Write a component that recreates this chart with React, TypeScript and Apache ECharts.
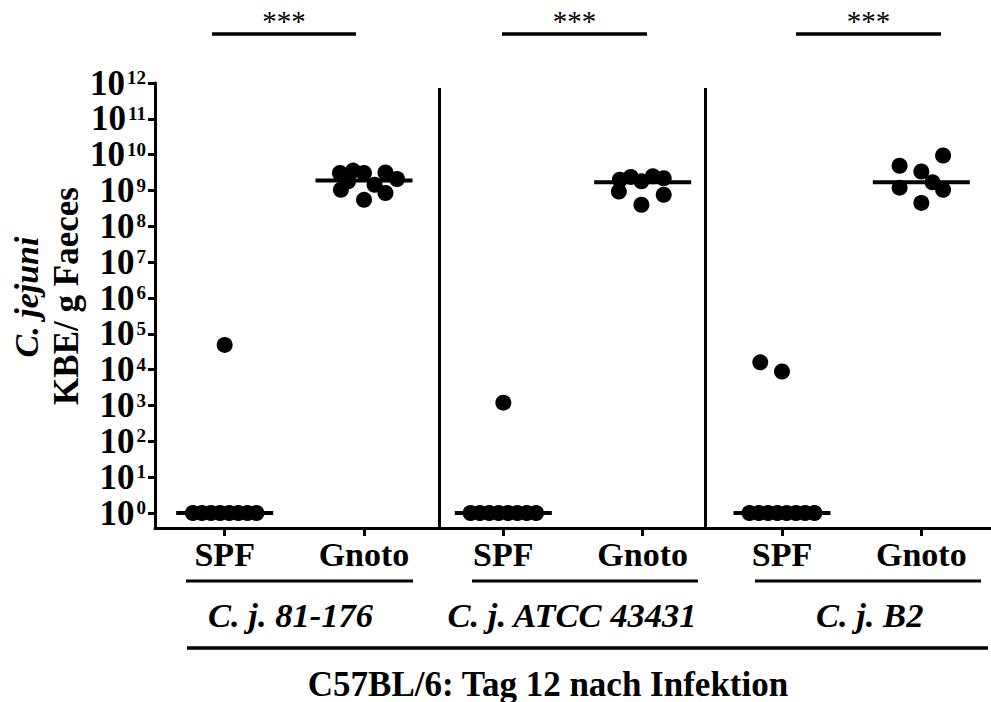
import React, { useEffect, useRef } from "react";
import * as echarts from "echarts";

// ---- data ----
const categories = ["SPF", "Gnoto", "SPF", "Gnoto", "SPF", "Gnoto"];
const strains = ["C. j. 81-176", "C. j. ATCC 43431", "C. j. B2"];
const yExponents = [0, 1, 2, 3, 4, 5, 6, 7, 8, 9, 10, 11, 12];
const significance = ["***", "***", "***"];

// CFU / g faeces per animal, with the horizontal scatter offset of each dot (in category units)
const spf81176 = [1, 1, 1, 1, 1, 1, 1, 1, 4.9e4];
const spf81176Jitter = [-0.228, -0.163, -0.098, -0.033, 0.033, 0.098, 0.163, 0.228, 0];
const gnoto81176 = [3.1e9, 3.6e9, 3.1e9, 1.05e9, 1.8e9, 1.45e9, 3.2e9, 2.1e9, 8.5e8, 5.5e8];
const gnoto81176Jitter = [-0.173, -0.078, 0, -0.166, -0.114, 0.076, 0.154, 0.237, 0.154, 0];
const spfAtcc = [1, 1, 1, 1, 1, 1, 1, 1, 1.2e3];
const spfAtccJitter = [-0.235, -0.168, -0.101, -0.034, 0.034, 0.101, 0.168, 0.235, 0];
const gnotoAtcc = [2.0e9, 2.4e9, 1.8e9, 2.5e9, 2.2e9, 9.4e8, 7.6e8, 4.0e8];
const gnotoAtccJitter = [-0.164, -0.085, -0.009, 0.073, 0.151, -0.171, 0.151, -0.009];
const spfB2 = [1, 1, 1, 1, 1, 1, 1, 1, 1.6e4, 8.9e3];
const spfB2Jitter = [-0.233, -0.166, -0.1, -0.033, 0.033, 0.1, 0.166, 0.233, -0.156, 0];
const gnotoB2 = [4.9e9, 9.5e9, 3.4e9, 1.7e9, 1.2e9, 1.05e9, 4.5e8];
const gnotoB2Jitter = [-0.156, 0.156, 0, 0.08, -0.156, 0.156, 0];
const medians = [1, 1.9e9, 1, 1.7e9, 1, 1.7e9];
const separatorsAt = [1.54, 3.45];

const groups = [
  [spf81176, spf81176Jitter],
  [gnoto81176, gnoto81176Jitter],
  [spfAtcc, spfAtccJitter],
  [gnotoAtcc, gnotoAtccJitter],
  [spfB2, spfB2Jitter],
  [gnotoB2, gnotoB2Jitter],
];

const FONT = "'Liberation Serif', 'Times New Roman', serif";

export default function App() {
  const ref = useRef<HTMLDivElement>(null);

  useEffect(() => {
    if (!ref.current) return;
    const chart = echarts.init(ref.current, undefined, { renderer: "svg" });

    const gridLeft = 155;
    const gridWidth = 843.6;
    const top = 83;
    const zeroY = 513; // pixel row of 10^0
    const axisY = 528; // pixel row of the x axis line
    const dec = (zeroY - top) / 12;
    const yMin0 = -(axisY - zeroY) / dec;

    const points: number[][] = [];
    groups.forEach(([vals, jit], gi) => {
      vals.forEach((v, k) => points.push([gi + jit[k], Math.log10(v)]));
    });
    const medianData = medians.map((m, i) => [i, Math.log10(m)]);

    const sigBars = [
      [212, 356],
      [502, 647],
      [796, 941],
    ];
    const underlines = [
      [186, 413],
      [472, 698],
      [755, 981],
    ];
    const strainCenters = [290.5, 572, 869.7];

    const txt = (text: string, x: number, y: number, font: string, rotation = 0) => ({
      type: "text",
      x,
      y,
      rotation,
      style: {
        text,
        fill: "#000",
        font,
        textAlign: "center",
        textVerticalAlign: "middle",
        align: "center",
        verticalAlign: "middle",
      },
    });

    const graphic: any[] = [];
    sigBars.forEach(([a, b], i) => {
      graphic.push({
        type: "line",
        shape: { x1: a, y1: 34, x2: b, y2: 34 },
        style: { stroke: "#000", lineWidth: 3.5 },
      });
      graphic.push(txt(significance[i], (a + b) / 2, 21, `normal 29px ${FONT}`));
    });
    underlines.forEach(([a, b], i) => {
      graphic.push({
        type: "line",
        shape: { x1: a, y1: 581, x2: b, y2: 581 },
        style: { stroke: "#000", lineWidth: 3 },
      });
      graphic.push(txt(strains[i], strainCenters[i], 615, `italic bold 34.5px ${FONT}`));
    });
    graphic.push({
      type: "line",
      shape: { x1: 187, y1: 648, x2: 988, y2: 648 },
      style: { stroke: "#000", lineWidth: 3.5 },
    });
    graphic.push(txt("C57BL/6: Tag 12 nach Infektion", 548, 684, `bold 35px ${FONT}`));
    graphic.push(txt("C. jejuni", 26, 297, `italic bold 34px ${FONT}`, Math.PI / 2));
    graphic.push(txt("KBE/ g Faeces", 66, 296, `bold 35px ${FONT}`, Math.PI / 2));

    const option: any = {
      animation: false,
      backgroundColor: "#fff",
      grid: [
        { left: gridLeft, top, width: gridWidth, bottom: 702 - axisY, containLabel: false },
        { left: gridLeft, top, width: gridWidth, bottom: 702 - zeroY, containLabel: false },
      ],
      xAxis: [
        {
          type: "category",
          gridIndex: 0,
          data: categories,
          boundaryGap: true,
          axisLine: { show: true, onZero: false, lineStyle: { color: "#000", width: 3 } },
          axisTick: { show: true, alignWithLabel: true, length: 8, lineStyle: { color: "#000", width: 3 } },
          axisLabel: {
            color: "#000",
            fontFamily: FONT,
            fontWeight: "bold",
            fontSize: 34,
            margin: 9,
          },
          splitLine: { show: false },
        },
        { type: "value", gridIndex: 0, min: -0.5, max: 5.5, show: false },
        { type: "value", gridIndex: 1, min: -0.5, max: 5.5, show: false },
      ],
      yAxis: [
        {
          type: "value",
          gridIndex: 0,
          min: yMin0,
          max: 12,
          axisLine: { show: true, onZero: false, lineStyle: { color: "#000", width: 3 } },
          axisTick: { show: false },
          axisLabel: { show: false },
          splitLine: { show: false },
        },
        {
          type: "value",
          gridIndex: 1,
          min: 0,
          max: 12,
          interval: 1,
          axisLine: { show: false, onZero: false },
          axisTick: { show: true, length: 7, lineStyle: { color: "#000", width: 3 } },
          splitLine: { show: false },
          axisLabel: {
            margin: 9,
            formatter: (v: number) => (yExponents.includes(v) ? `{a|10}{b|${v}}` : ""),
            rich: {
              a: { fontFamily: FONT, fontWeight: "bold", fontSize: 35, color: "#000", lineHeight: 30 },
              b: {
                fontFamily: FONT,
                fontWeight: "bold",
                fontSize: 19,
                color: "#000",
                verticalAlign: "top",
                lineHeight: 19,
                padding: [0, 0, 0, 2],
              },
            },
          },
        },
      ],
      series: [
        {
          type: "scatter",
          xAxisIndex: 1,
          yAxisIndex: 0,
          symbol: "rect",
          symbolSize: [97, 4],
          itemStyle: { color: "#000", opacity: 1 },
          data: medianData,
          markLine: {
            silent: true,
            symbol: ["none", "none"],
            label: { show: false },
            lineStyle: { color: "#000", width: 3, type: "solid", opacity: 1 },
            data: separatorsAt.map((x) => [{ coord: [x, 11.86] }, { coord: [x, yMin0] }]),
          },
        },
        {
          type: "scatter",
          xAxisIndex: 1,
          yAxisIndex: 0,
          symbol: "circle",
          symbolSize: 16,
          itemStyle: { color: "#000", opacity: 1 },
          data: points,
        },
      ],
      graphic,
    };

    chart.setOption(option);
    return () => chart.dispose();
  }, []);

  return (
    <div
      ref={ref}
      style={{ position: "fixed", left: 0, top: 0, width: 991, height: 702, background: "#fff" }}
    />
  );
}
